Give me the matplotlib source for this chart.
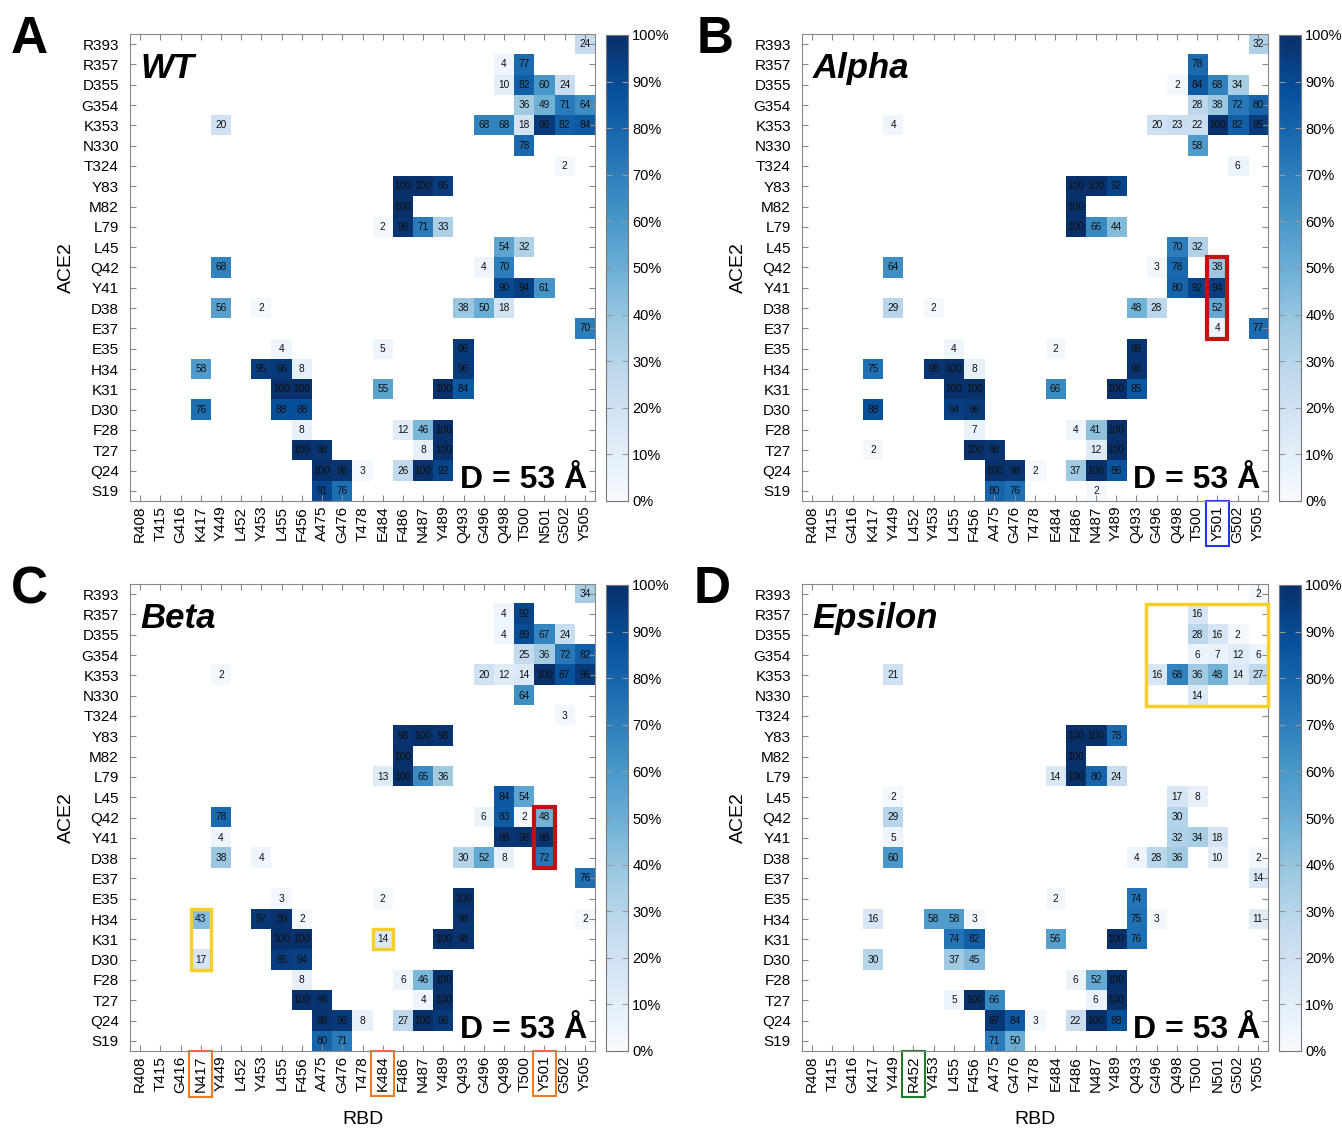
import numpy as np
import matplotlib
matplotlib.use('Agg')
import matplotlib.pyplot as plt
from matplotlib.patches import Rectangle

plt.rcParams['font.family'] = ['Liberation Sans', 'DejaVu Sans']

# RBD residues (columns) and ACE2 residues (rows)
rbd = ['R408', 'T415', 'G416', 'K417', 'Y449', 'L452', 'Y453', 'L455', 'F456',
       'A475', 'G476', 'T478', 'E484', 'F486', 'N487', 'Y489', 'Q493', 'G496',
       'Q498', 'T500', 'N501', 'G502', 'Y505']
ace2 = ['R393', 'R357', 'D355', 'G354', 'K353', 'N330', 'T324', 'Y83', 'M82',
        'L79', 'L45', 'Q42', 'Y41', 'D38', 'E37', 'E35', 'H34', 'K31', 'D30',
        'F28', 'T27', 'Q24', 'S19']

# contact occupancy (%) keyed by ACE2 residue -> {RBD position: value}
wt = {
    'R393': {'Y505': 24},
    'R357': {'Q498': 4, 'T500': 77},
    'D355': {'Q498': 10, 'T500': 82, 'N501': 60, 'G502': 24},
    'G354': {'T500': 36, 'N501': 49, 'G502': 71, 'Y505': 64},
    'K353': {'Y449': 20, 'G496': 68, 'Q498': 68, 'T500': 18, 'N501': 96, 'G502': 82, 'Y505': 84},
    'N330': {'T500': 78},
    'T324': {'G502': 2},
    'Y83': {'F486': 100, 'N487': 100, 'Y489': 95},
    'M82': {'F486': 100},
    'L79': {'E484': 2, 'F486': 98, 'N487': 71, 'Y489': 33},
    'L45': {'Q498': 54, 'T500': 32},
    'Q42': {'Y449': 68, 'G496': 4, 'Q498': 70},
    'Y41': {'Q498': 90, 'T500': 94, 'N501': 61},
    'D38': {'Y449': 56, 'Y453': 2, 'Q493': 38, 'G496': 50, 'Q498': 18},
    'E37': {'Y505': 70},
    'E35': {'L455': 4, 'E484': 5, 'Q493': 96},
    'H34': {'K417': 58, 'Y453': 95, 'L455': 96, 'F456': 8, 'Q493': 96},
    'K31': {'L455': 100, 'F456': 100, 'E484': 55, 'Y489': 100, 'Q493': 84},
    'D30': {'K417': 76, 'L455': 88, 'F456': 88},
    'F28': {'F456': 8, 'F486': 12, 'N487': 46, 'Y489': 100},
    'T27': {'F456': 100, 'A475': 98, 'N487': 8, 'Y489': 100},
    'Q24': {'A475': 100, 'G476': 98, 'T478': 3, 'F486': 26, 'N487': 100, 'Y489': 92},
    'S19': {'A475': 91, 'G476': 76},
}

alpha = {
    'R393': {'Y505': 32},
    'R357': {'T500': 78},
    'D355': {'Q498': 2, 'T500': 84, 'N501': 68, 'G502': 34},
    'G354': {'T500': 28, 'N501': 38, 'G502': 72, 'Y505': 80},
    'K353': {'Y449': 4, 'G496': 20, 'Q498': 23, 'T500': 22, 'N501': 100, 'G502': 82, 'Y505': 95},
    'N330': {'T500': 58},
    'T324': {'G502': 6},
    'Y83': {'F486': 100, 'N487': 100, 'Y489': 92},
    'M82': {'F486': 100},
    'L79': {'F486': 100, 'N487': 66, 'Y489': 44},
    'L45': {'Q498': 70, 'T500': 32},
    'Q42': {'Y449': 64, 'G496': 3, 'Q498': 78, 'N501': 38},
    'Y41': {'Q498': 80, 'T500': 92, 'N501': 94},
    'D38': {'Y449': 29, 'Y453': 2, 'Q493': 48, 'G496': 28, 'N501': 52},
    'E37': {'N501': 4, 'Y505': 77},
    'E35': {'L455': 4, 'E484': 2, 'Q493': 98},
    'H34': {'K417': 75, 'Y453': 98, 'L455': 100, 'F456': 8, 'Q493': 98},
    'K31': {'L455': 100, 'F456': 100, 'E484': 66, 'Y489': 100, 'Q493': 85},
    'D30': {'K417': 88, 'L455': 94, 'F456': 96},
    'F28': {'F456': 7, 'F486': 4, 'N487': 41, 'Y489': 100},
    'T27': {'K417': 2, 'F456': 100, 'A475': 98, 'N487': 12, 'Y489': 100},
    'Q24': {'A475': 100, 'G476': 98, 'T478': 2, 'F486': 37, 'N487': 100, 'Y489': 86},
    'S19': {'A475': 80, 'G476': 76, 'N487': 2},
}

beta = {
    'R393': {'Y505': 34},
    'R357': {'Q498': 4, 'T500': 92},
    'D355': {'Q498': 4, 'T500': 89, 'N501': 67, 'G502': 24},
    'G354': {'T500': 25, 'N501': 36, 'G502': 72, 'Y505': 82},
    'K353': {'Y449': 2, 'G496': 20, 'Q498': 12, 'T500': 14, 'N501': 100, 'G502': 87, 'Y505': 96},
    'N330': {'T500': 64},
    'T324': {'G502': 3},
    'Y83': {'F486': 98, 'N487': 100, 'Y489': 98},
    'M82': {'F486': 100},
    'L79': {'E484': 13, 'F486': 100, 'N487': 65, 'Y489': 36},
    'L45': {'Q498': 84, 'T500': 54},
    'Q42': {'Y449': 78, 'G496': 6, 'Q498': 83, 'T500': 2, 'N501': 48},
    'Y41': {'Y449': 4, 'Q498': 98, 'T500': 98, 'N501': 98},
    'D38': {'Y449': 38, 'Y453': 4, 'Q493': 30, 'G496': 52, 'Q498': 8, 'N501': 72},
    'E37': {'Y505': 76},
    'E35': {'L455': 3, 'E484': 2, 'Q493': 100},
    'H34': {'K417': 43, 'Y453': 97, 'L455': 99, 'F456': 2, 'Q493': 98, 'Y505': 2},
    'K31': {'L455': 100, 'F456': 100, 'E484': 14, 'Y489': 100, 'Q493': 98},
    'D30': {'K417': 17, 'L455': 95, 'F456': 94},
    'F28': {'F456': 8, 'F486': 6, 'N487': 46, 'Y489': 100},
    'T27': {'F456': 100, 'A475': 98, 'N487': 4, 'Y489': 100},
    'Q24': {'A475': 98, 'G476': 96, 'T478': 8, 'F486': 27, 'N487': 100, 'Y489': 96},
    'S19': {'A475': 80, 'G476': 71},
}

epsilon = {
    'R393': {'Y505': 2},
    'R357': {'T500': 16},
    'D355': {'T500': 28, 'N501': 16, 'G502': 2},
    'G354': {'T500': 6, 'N501': 7, 'G502': 12, 'Y505': 6},
    'K353': {'Y449': 21, 'G496': 16, 'Q498': 68, 'T500': 36, 'N501': 48, 'G502': 14, 'Y505': 27},
    'N330': {'T500': 14},
    'Y83': {'F486': 100, 'N487': 100, 'Y489': 78},
    'M82': {'F486': 100},
    'L79': {'E484': 14, 'F486': 100, 'N487': 80, 'Y489': 24},
    'L45': {'Y449': 2, 'Q498': 17, 'T500': 8},
    'Q42': {'Y449': 29, 'Q498': 30},
    'Y41': {'Y449': 5, 'Q498': 32, 'T500': 34, 'N501': 18},
    'D38': {'Y449': 60, 'Q493': 4, 'G496': 28, 'Q498': 36, 'N501': 10, 'Y505': 2},
    'E37': {'Y505': 14},
    'E35': {'E484': 2, 'Q493': 74},
    'H34': {'K417': 16, 'Y453': 58, 'L455': 58, 'F456': 3, 'Q493': 75, 'G496': 3, 'Y505': 11},
    'K31': {'L455': 74, 'F456': 82, 'E484': 56, 'Y489': 100, 'Q493': 76},
    'D30': {'K417': 30, 'L455': 37, 'F456': 45},
    'F28': {'F486': 6, 'N487': 52, 'Y489': 100},
    'T27': {'L455': 5, 'F456': 100, 'A475': 66, 'N487': 6, 'Y489': 100},
    'Q24': {'A475': 97, 'G476': 84, 'T478': 3, 'F486': 22, 'N487': 100, 'Y489': 88},
    'S19': {'A475': 71, 'G476': 50},
}

# mutated residue labels per variant
alpha_labels = {'N501': 'Y501'}
beta_labels = {'K417': 'N417', 'E484': 'K484', 'N501': 'Y501'}
epsilon_labels = {'L452': 'R452'}


def to_matrix(d):
    m = np.full((len(ace2), len(rbd)), np.nan)
    for r, row in d.items():
        for c, v in row.items():
            m[ace2.index(r), rbd.index(c)] = v
    return m


W, H = 1342, 1129
fig = plt.figure(figsize=(W / 100, H / 100), dpi=100)


def px_axes(x0, y0, x1, y1):
    return fig.add_axes([x0 / W, 1 - y1 / H, (x1 - x0) / W, (y1 - y0) / H])


def draw_panel(data, title, letter, box, cbox, lpos, relabel, label_color,
               show_xlabel):
    ax = px_axes(*box)
    m = to_matrix(data)
    im = ax.imshow(np.ma.masked_invalid(m), cmap='Blues', vmin=0, vmax=100,
                   aspect='auto', interpolation='nearest')
    for i in range(m.shape[0]):
        for j in range(m.shape[1]):
            if not np.isnan(m[i, j]):
                ax.text(j, i, f'{int(m[i, j])}', ha='center', va='center',
                        fontsize=7.3, color='#111111')

    labels = [relabel.get(r, r) for r in rbd]
    ax.set_xticks(range(len(rbd)))
    ax.set_xticklabels(labels, rotation=90)
    ax.set_yticks(range(len(ace2)))
    ax.set_yticklabels(ace2)
    ax.tick_params(direction='in', top=True, right=True, length=4,
                   color='#888888', labelsize=11)
    ax.tick_params(axis='y', pad=8)
    for s in ax.spines.values():
        s.set_color('#888888')
    for lbl in ax.get_xticklabels():
        key = rbd[labels.index(lbl.get_text())]
        if key in relabel:
            lbl.set_bbox(dict(boxstyle='square,pad=0.3', fc='none',
                              ec=label_color, lw=1.5))

    ax.set_ylabel('ACE2', fontsize=14, labelpad=5)
    if show_xlabel:
        ax.set_xlabel('RBD', fontsize=14, labelpad=13)

    ax.text(0.022, 0.906, title, transform=ax.transAxes, fontsize=25,
            fontweight='bold', fontstyle='italic', va='baseline')
    ax.text(0.983, 0.028, 'D = 53 Å', transform=ax.transAxes, fontsize=23,
            fontweight='bold', ha='right', va='baseline')
    fig.text(lpos[0] / W, 1 - lpos[1] / H, letter, fontsize=37,
             fontweight='bold', va='baseline')

    cax = px_axes(*cbox)
    cb = fig.colorbar(im, cax=cax, ticks=range(0, 101, 10))
    cb.ax.set_yticklabels([f'{t}%' for t in range(0, 101, 10)])
    cb.ax.tick_params(direction='in', left=True, right=True, length=4,
                      color='#999999', labelsize=10.5, pad=3)
    cb.outline.set_edgecolor('#777777')
    return ax


ax_a = draw_panel(wt, 'WT', 'A', (130, 34, 595, 501), (606, 35, 628, 501),
                  (11, 53), {}, None, False)
ax_b = draw_panel(alpha, 'Alpha', 'B', (802, 34, 1268, 501),
                  (1279, 35, 1301, 501), (697, 53), alpha_labels, '#2233ee', False)
ax_c = draw_panel(beta, 'Beta', 'C', (130, 584, 595, 1051), (606, 585, 628, 1051),
                  (11, 603), beta_labels, '#f07a20', True)
ax_d = draw_panel(epsilon, 'Epsilon', 'D', (802, 584, 1268, 1051),
                  (1279, 585, 1301, 1051), (694, 603), epsilon_labels, '#1f7a2a', True)

# highlight boxes: (axes, first col, first row, n cols, n rows, colour, width)
red = '#c41010'
gold = '#f7cf2a'
highlights = [
    (ax_b, 'N501', 'Q42', 1, 4, red, 3),
    (ax_c, 'N501', 'Q42', 1, 3, red, 3),
    (ax_c, 'K417', 'H34', 1, 3, gold, 2.5),
    (ax_c, 'E484', 'K31', 1, 1, gold, 2.5),
    (ax_d, 'G496', 'R357', 6, 5, gold, 2.5),
]
for ax, c, r, nc, nr, col, lw in highlights:
    j, i = rbd.index(c), ace2.index(r)
    ax.add_patch(Rectangle((j - 0.5, i - 0.5), nc, nr, fill=False,
                           edgecolor=col, linewidth=lw, clip_on=False, zorder=5))

fig.savefig('out.png', dpi=100)
